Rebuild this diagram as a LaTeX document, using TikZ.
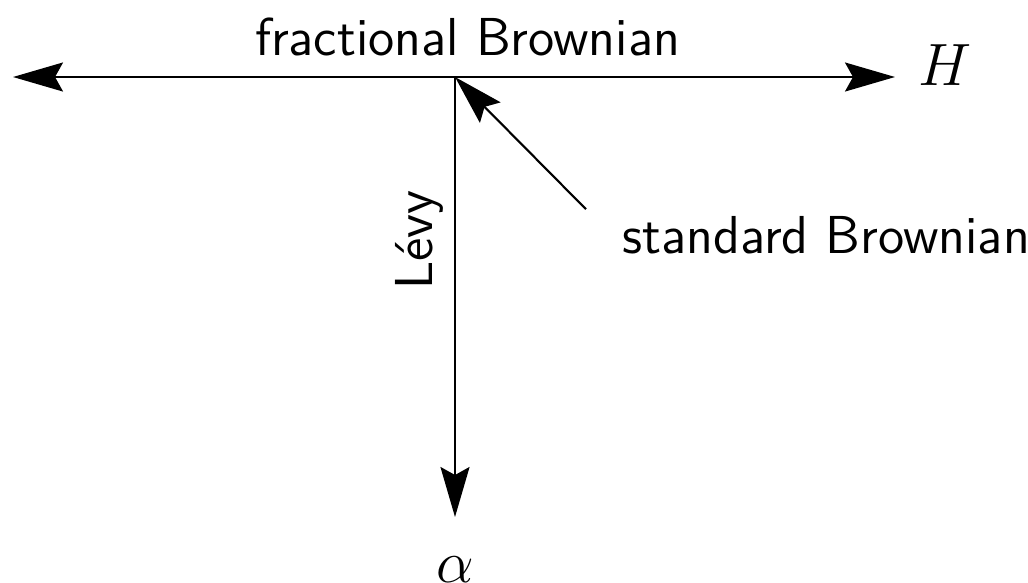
\RequirePackage{fix-cm}
\documentclass[tikz,border=0pt]{standalone}
\usetikzlibrary{arrows.meta,positioning}

\begin{document}
\begin{tikzpicture}[
    font=\sffamily\fontsize{15.2}{18}\selectfont,
    tip/.tip={Stealth[length=5mm,width=2.9mm,inset=0.8mm]},
    axis/.style={line width=0.6pt},
    lbl/.style={inner sep=0pt},
    var/.style={inner sep=0pt,font=\fontsize{17}{20}\selectfont},
  ]
\useasboundingbox (0,0) rectangle (10.28,5.82);

% axes meeting at the origin
\coordinate (O) at (4.55,5.05);
\coordinate (west) at (0.13,5.05);
\coordinate (east) at (8.95,5.05);
\coordinate (south) at (4.55,0.65);

\draw[axis,tip-tip] (west) -- (east);
\draw[axis,-tip] (O) -- (south);

% axis names
\node[var,anchor=base west] (H) at (9.18,4.97) {$H$};
\node[var,anchor=base] (alpha) at (4.55,0.0) {$\alpha$};

% labels
\node[lbl,anchor=base] (frac) at (4.675,5.27) {fractional Brownian};
\node[lbl,anchor=base,rotate=90] (levy) at (4.32,3.42) {L\'evy};
\node[lbl,anchor=base west] (std) at (6.22,3.29) {standard Brownian};

\draw[axis,-tip] ([shift={(-0.36,0.06)}]std.north west) -- (O);
\end{tikzpicture}
\end{document}
